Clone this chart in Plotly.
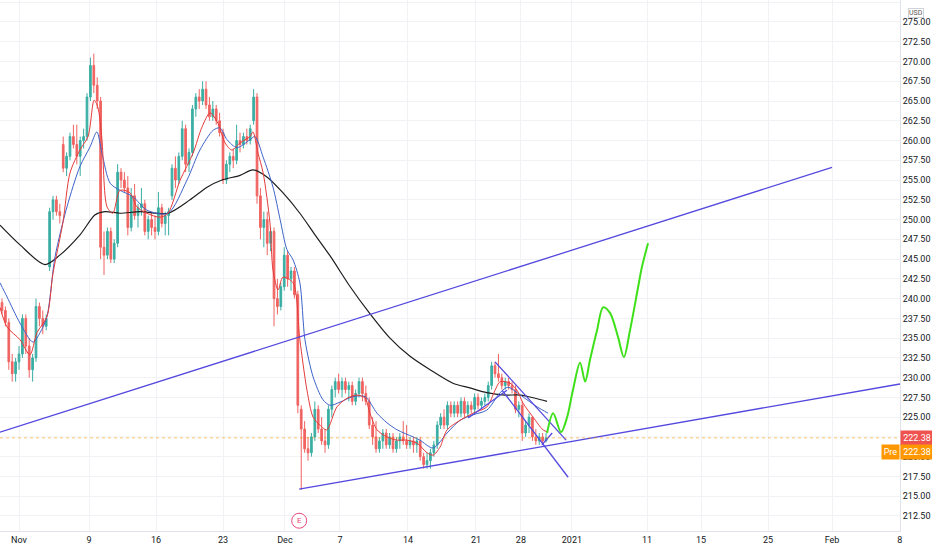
import plotly.graph_objects as go

# 4h candles, x = bar index
opens = [239.5, 238.5, 237, 232, 230.5, 232, 233, 237.5, 234, 231, 232.5, 239, 237.5, 236.5, 244, 251, 252.5, 251,
         259.5, 256.5, 258, 260.5, 259.5, 258, 260, 260.5, 265.5, 269.5, 267, 265, 246.5, 245.5, 248.5, 245, 247, 256,
         255, 254, 249, 253, 250.5, 251.5, 252, 248.5, 250, 249, 248.5, 251.5, 249.5, 250.5, 253, 256.5, 255, 258,
         261.5, 257, 258.5, 264, 265.5, 265, 266.5, 264.5, 263, 264, 262.5, 261, 255, 257, 258, 257.5, 260, 259.5,
         260.5, 260, 262.5, 265.5, 253, 249, 250, 247, 248.5, 240, 239, 241.5, 245.5, 242.5, 243.5, 240.5, 226, 223.5,
         221, 220.5, 222.5, 226, 223.5, 222, 221.5, 226, 228.5, 229.5, 228.5, 229.5, 228.5, 229, 227, 228, 229.5, 228,
         227, 224, 222.5, 221, 222, 223, 221.5, 222.5, 221, 222, 222.5, 222, 221.5, 222, 221.5, 222, 220, 219, 219.5,
         220.5, 221.5, 224, 225, 224, 226.5, 225.5, 226.5, 225.5, 227, 225.5, 226.5, 226, 227.5, 226.5, 227, 227.5,
         229, 231.5, 230.5, 230, 229, 229.5, 229, 228.5, 226, 226.5, 223, 224, 225, 222.5, 222, 222.5, 222]
highs = [240, 239, 237.5, 233, 232.5, 234, 238, 238, 235, 233, 240, 239.5, 238.5, 238, 251.5, 253, 253, 252,
         260.5, 258.5, 261, 262, 262, 260.5, 261.5, 266, 270.5, 271, 268, 265.5, 248.5, 249, 249, 247.5, 257, 256.5,
         256, 255.5, 254, 254.5, 252, 254, 252.5, 250.5, 251, 250.5, 253.5, 252, 251, 251.5, 257, 258, 258.5, 262.5,
         262, 259, 264.5, 266, 266.5, 267.5, 267.5, 265.5, 265, 264.5, 263.5, 261.5, 257.5, 258.5, 259, 262, 261, 261,
         261.5, 262, 266.5, 266, 254, 251, 251, 249, 249, 242.5, 242, 246.5, 246, 244, 244, 241, 226.5, 224.5,
         222.5, 223, 227, 226.5, 225, 223.5, 226.5, 229, 230, 230.5, 230, 230, 229.5, 229.5, 228.5, 230, 230, 229,
         227.5, 225, 224.5, 222.5, 223.5, 223.5, 223, 223, 222.5, 223, 224.5, 224, 222.5, 222.5, 222.5, 222.5, 220.5,
         220.5, 221, 222, 224.5, 225.5, 226, 227, 227, 227, 227, 227.5, 227.5, 227, 227, 228, 228, 227.5, 228, 229.5,
         232, 232, 233, 230.5, 230, 230, 229.5, 229, 227, 227, 224.5, 225.5, 225, 223.5, 223, 223, 223]
lows = [238, 236.5, 231, 229.5, 229.5, 231, 232.5, 233, 230, 229.5, 232, 236.5, 235.5, 236, 243.5, 250, 250.5, 249.5,
        256, 255.5, 257.5, 259, 257, 255.5, 259, 260, 265, 266, 264, 245, 243, 245, 244.5, 244.5, 246.5, 254,
        253.5, 248, 248.5, 250, 249, 250.5, 248, 247.5, 248, 247.5, 248, 249, 248, 248, 252.5, 254, 254.5, 257.5,
        256, 256, 258, 263, 264, 264.5, 264, 262.5, 262.5, 262, 260.5, 254.5, 254.5, 256, 256.5, 257, 258.5, 259,
        259.5, 259.5, 262, 252, 247.5, 246.5, 245.5, 246, 236.5, 238, 238.5, 241, 241.5, 241, 240, 225.5, 215.8, 220.5,
        219.5, 220, 222, 223, 221.5, 220.5, 221, 225, 227.5, 228, 227.5, 228, 227, 226.5, 226.5, 227.5, 227, 226.5,
        223.5, 221.5, 220.5, 220.5, 221, 221, 221, 220.5, 220.5, 221, 221.5, 221, 221, 220.5, 220.5, 219.5, 218.5,
        218.5, 218.5, 220, 221, 223.5, 223.5, 223.5, 225, 225, 225, 225, 225, 225, 225.5, 225.5, 226, 226, 226.5, 227,
        228.5, 230, 229.5, 228.5, 228.5, 228.5, 228, 225.5, 225, 222, 222.5, 223, 222, 221.5, 221.5, 221.5, 221.8]
closes = [238.5, 237, 232, 230.5, 232, 233, 237.5, 234, 231, 232.5, 239, 237.5, 236.5, 237.5, 251, 252.5, 251, 250.5,
          256.5, 258, 260.5, 259.5, 258, 260, 260.5, 265.5, 269.5, 267, 265, 246.5, 245.5, 248.5, 245, 247, 256, 255,
          254, 249, 253, 250.5, 251.5, 252, 248.5, 250, 249, 248.5, 251.5, 249.5, 250.5, 251, 256.5, 255, 258, 261.5,
          257, 258.5, 264, 265.5, 265, 266.5, 264.5, 263, 264, 262.5, 261, 255, 257, 258, 257.5, 260, 259.5, 260.5,
          260, 261.5, 265.5, 253, 249, 250, 247, 248.5, 240, 239, 241.5, 245.5, 242.5, 243.5, 240.5, 226.5, 223.5, 221,
          220.5, 222.5, 226, 223.5, 222, 221.5, 226, 228.5, 229.5, 228.5, 229.5, 228.5, 229, 227, 228, 229.5, 228, 227,
          224, 222.5, 221, 222, 223, 221.5, 222.5, 221, 222, 222.5, 222, 221.5, 222, 221.5, 222, 220, 219, 219.5,
          220.5, 221.5, 224, 225, 224, 226.5, 225.5, 226.5, 225.5, 227, 225.5, 226.5, 226, 227.5, 226.5, 227, 227.5,
          229, 231.5, 230.5, 230, 229, 229.5, 229, 228.5, 226, 226.5, 223, 224, 225, 222.5, 222, 222.5, 222, 222.38]
bars = list(range(len(closes)))

# moving averages (bar index, price)
fast_ma_idx = [-0.6, 1.5, 5.3, 8.2, 10.3, 13.2, 15, 17.9, 20, 22.9, 25.3, 27.1, 28.2, 29.4, 30.9, 32.6, 34.7, 37.6,
               39.7, 42.6, 46.5, 48.8, 52.4, 56.2, 58.8, 61.2, 63.5, 65.6, 67.6, 70, 72.9, 73.8, 75.3, 76.8, 78.8,
               79.7, 81.2, 82.6, 85.6, 87.6, 89.7, 91.5, 93.5, 95.5, 98.5, 101.5, 104.4, 106.8, 108.2, 110.3, 113.2,
               116.2, 119.1, 122.1, 125, 126.8, 128.8, 130.9, 134.7, 138.5, 142.6, 145, 146.5, 149.4, 151.5, 153.2,
               156.2, 159.1, 160.6]
fast_ma = [238.9, 236.4, 234.8, 232.9, 235.7, 237.7, 243.2, 249.6, 255.9, 258.8, 260.5, 265.1, 264.2, 260.1, 251.6,
           250.8, 253.7, 253.4, 251.6, 250.8, 250.3, 250.8, 255.0, 258.4, 261.7, 263.5, 262.2, 259.7, 258.8, 259.7,
           260.5, 261.1, 258.4, 255.9, 249.6, 243.6, 241.1, 242.7, 242.0, 234.8, 228.4, 225.0, 224.0, 223.4, 226.3,
           227.4, 227.8, 227.4, 225.5, 223.4, 222.5, 222.1, 222.1, 221.7, 220.5, 220.2, 221.2, 223.4, 224.6, 225.5,
           226.3, 228.4, 229.5, 229.3, 228.4, 226.8, 225.0, 223.4, 223.1]
mid_ma_idx = [-0.6, 1.5, 5.3, 9.1, 11.2, 13.2, 15.6, 19.1, 22.9, 25.9, 27.9, 29.4, 31.8, 34.7, 38.5, 42.6, 48.8, 54.4,
              58.2, 62.1, 64.1, 66.2, 69.1, 72.9, 74.4, 76.8, 79.7, 81.8, 83.8, 85.6, 87.6, 89.1, 91.5, 94.4, 96.5,
              99.4, 103.2, 106.8, 110.3, 113.2, 116.2, 120.9, 122.9, 126.8, 130.9, 134.7, 138.5, 142.6, 146.5, 148.8,
              151.5, 154.4, 157.4, 160.6]
mid_ma = [242.0, 240.2, 236.9, 234.5, 235.7, 237.7, 245.3, 251.6, 256.7, 259.2, 261.1, 258.4, 254.6, 253.7, 252.9,
          251.2, 250.8, 255.0, 258.8, 261.3, 261.6, 260.1, 259.1, 260.1, 260.5, 257.9, 254.1, 250.0, 246.2, 244.9,
          242.0, 234.8, 230.1, 227.2, 226.5, 226.9, 227.6, 227.6, 225.5, 224.3, 223.4, 222.5, 222.1, 221.1, 223.0,
          224.6, 225.3, 225.9, 228.1, 228.8, 228.1, 227.2, 226.3, 225.5]
slow_ma_idx = [-0.6, 5.3, 12.6, 17, 23, 27.4, 30.3, 34.7, 40.6, 48.8, 55.3, 60.3, 64.7, 70, 73.8, 77.9, 82.6, 87.6,
               92, 96.5, 102.4, 108.2, 114.1, 120, 125.9, 132.6, 137.6, 142.6, 147.9, 152.4, 156.8, 160.3]
slow_ma = [249.3, 246.8, 244.3, 245.5, 248.1, 250.6, 251.0, 250.8, 251.0, 250.8, 252.5, 254.1, 255.0, 255.6, 256.3,
           255.4, 253.4, 250.8, 248.1, 245.4, 241.5, 238.1, 235.0, 232.7, 231.0, 229.3, 228.7, 228.1, 227.8, 227.8,
           227.4, 227.0]

# drawn trend lines (bar index, price)
upper_trend_idx = [-0.6, 244.1]
upper_trend = [223.1, 256.6]
lower_trend_idx = [87.4, 264.1]
lower_trend = [215.9, 229.2]
chan_top_idx = [145, 165.9]
chan_top = [232.0, 222.1]
chan_bot_idx = [147.1, 166.5]
chan_bot = [228.4, 217.4]
rise_idx = [137.1, 148.5]
rise = [224.9, 228.4]
wedge_idx = [158.8, 161.8]
wedge = [221.5, 223.0]

# green projected path
proj_idx = [160.3, 162.1, 164.4, 166.2, 167.9, 170, 171.5, 172.9, 175, 176.8, 178.8, 181.2, 182.9, 184.7, 187.1,
            188.2, 190]
proj = [223.0, 225.5, 223.1, 225.0, 228.4, 231.9, 229.5, 232.2, 236.0, 238.9, 238.2, 235.1, 232.6, 236.0, 241.5,
        244.0, 247.0]

tick_pos = [5.0, 25.6, 45.3, 65.0, 83.2, 99.4, 119.4, 139.4, 152.6, 167.6, 189.7, 205.6, 225.3, 244.1, 264.0]
tick_text = ["Nov", "9", "16", "23", "Dec", "7", "14", "21", "28", "2021", "11", "15", "25", "Feb", "8"]
price_ticks = [212.5, 215, 217.5, 220, 225, 227.5, 230, 232.5, 235, 237.5, 240, 242.5, 245, 247.5, 250, 252.5,
               255, 257.5, 260, 262.5, 265, 267.5, 270, 272.5, 275, 277.5]
hidden_grid = 222.5
earnings_idx = 87.4
last_price = 222.38

line_blue = "rgb(84,72,222)"
grid = "#f0f2f6"
font_name = "Roboto, sans-serif"

fig = go.Figure()
fig.add_trace(go.Candlestick(
    x=bars, open=opens, high=highs, low=lows, close=closes,
    increasing=dict(line=dict(color="#26a69a", width=1), fillcolor="#26a69a"),
    decreasing=dict(line=dict(color="#ef5350", width=1), fillcolor="#ef5350"),
    whiskerwidth=0, opacity=0.9, showlegend=False, hoverinfo="skip"))

for xs, ys, col, w in [(slow_ma_idx, slow_ma, "#1e1e1e", 1.2),
                       (mid_ma_idx, mid_ma, "#3d63c9", 1),
                       (fast_ma_idx, fast_ma, "#e53b3b", 1)]:
    fig.add_trace(go.Scatter(x=xs, y=ys, mode="lines", line=dict(color=col, width=w, shape="spline", smoothing=0.8),
                             showlegend=False, hoverinfo="skip"))

for xs, ys in [(upper_trend_idx, upper_trend), (lower_trend_idx, lower_trend), (chan_top_idx, chan_top),
               (chan_bot_idx, chan_bot), (rise_idx, rise), (wedge_idx, wedge)]:
    fig.add_trace(go.Scatter(x=xs, y=ys, mode="lines", line=dict(color=line_blue, width=1.3),
                             showlegend=False, hoverinfo="skip"))

fig.add_trace(go.Scatter(x=proj_idx, y=proj, mode="lines",
                         line=dict(color="#3ee01a", width=2, shape="spline", smoothing=0.9),
                         showlegend=False, hoverinfo="skip"))

# earnings marker
fig.add_trace(go.Scatter(x=[earnings_idx], y=[211.9], mode="markers+text", text=["E"],
                         textposition="middle center", textfont=dict(size=8, color="#e8487c", family=font_name),
                         marker=dict(size=15, color="white", line=dict(color="#e8487c", width=1)),
                         showlegend=False, hoverinfo="skip", cliponaxis=False))

fig.add_shape(type="line", xref="paper", x0=0, x1=1, yref="y", y0=hidden_grid, y1=hidden_grid,
              line=dict(color=grid, width=1), layer="below")
fig.add_shape(type="line", xref="paper", x0=0, x1=1, yref="y", y0=last_price, y1=last_price,
              line=dict(color="rgba(255,152,0,0.55)", width=1, dash="dot"))

fig.add_annotation(xref="paper", x=1, xanchor="left", yref="y", y=last_price, text="222.38", showarrow=False,
                   bgcolor="#ef5350", font=dict(color="white", size=9, family=font_name), width=30, height=12,
                   borderpad=1)
fig.add_annotation(xref="paper", x=1, xanchor="left", yref="y", y=220.55, text="222.38", showarrow=False,
                   bgcolor="#ff9800", font=dict(color="white", size=9, family=font_name), width=30, height=12,
                   borderpad=1)
fig.add_annotation(xref="paper", x=1, xanchor="right", yref="y", y=220.55, text="Pre", showarrow=False,
                   bgcolor="#ff9800", font=dict(color="white", size=9, family=font_name), width=15, height=12,
                   borderpad=1)
fig.add_annotation(xref="paper", x=1, xanchor="left", xshift=8, yref="paper", y=0.985, text="USD", showarrow=False,
                   font=dict(color="#555", size=7, family=font_name), bordercolor="#d0d3da", borderwidth=1,
                   borderpad=0)

fig.update_layout(
    width=932, height=550,
    margin=dict(l=0, r=32, t=0, b=19),
    paper_bgcolor="white", plot_bgcolor="white",
    font=dict(family=font_name, size=9, color="#131722"),
    xaxis=dict(range=[-0.59, 264.1], tickmode="array", tickvals=tick_pos, ticktext=tick_text,
               showgrid=True, gridcolor=grid, zeroline=False, rangeslider=dict(visible=False),
               showline=True, linecolor="#e0e3eb", ticks="", tickfont=dict(size=9), automargin=False),
    yaxis=dict(range=[210.6, 277.78], side="right", tickmode="array", tickvals=price_ticks,
               tickformat=".2f", showgrid=True, gridcolor=grid, zeroline=False,
               showline=True, linecolor="#e0e3eb", ticks="", tickfont=dict(size=9), automargin=False),
)

# page has a default 8px body margin; drop it so the figure sits at the window corner
fig.write_html("out.html", config={"displayModeBar": False},
               post_script="document.body.style.margin='0';")
